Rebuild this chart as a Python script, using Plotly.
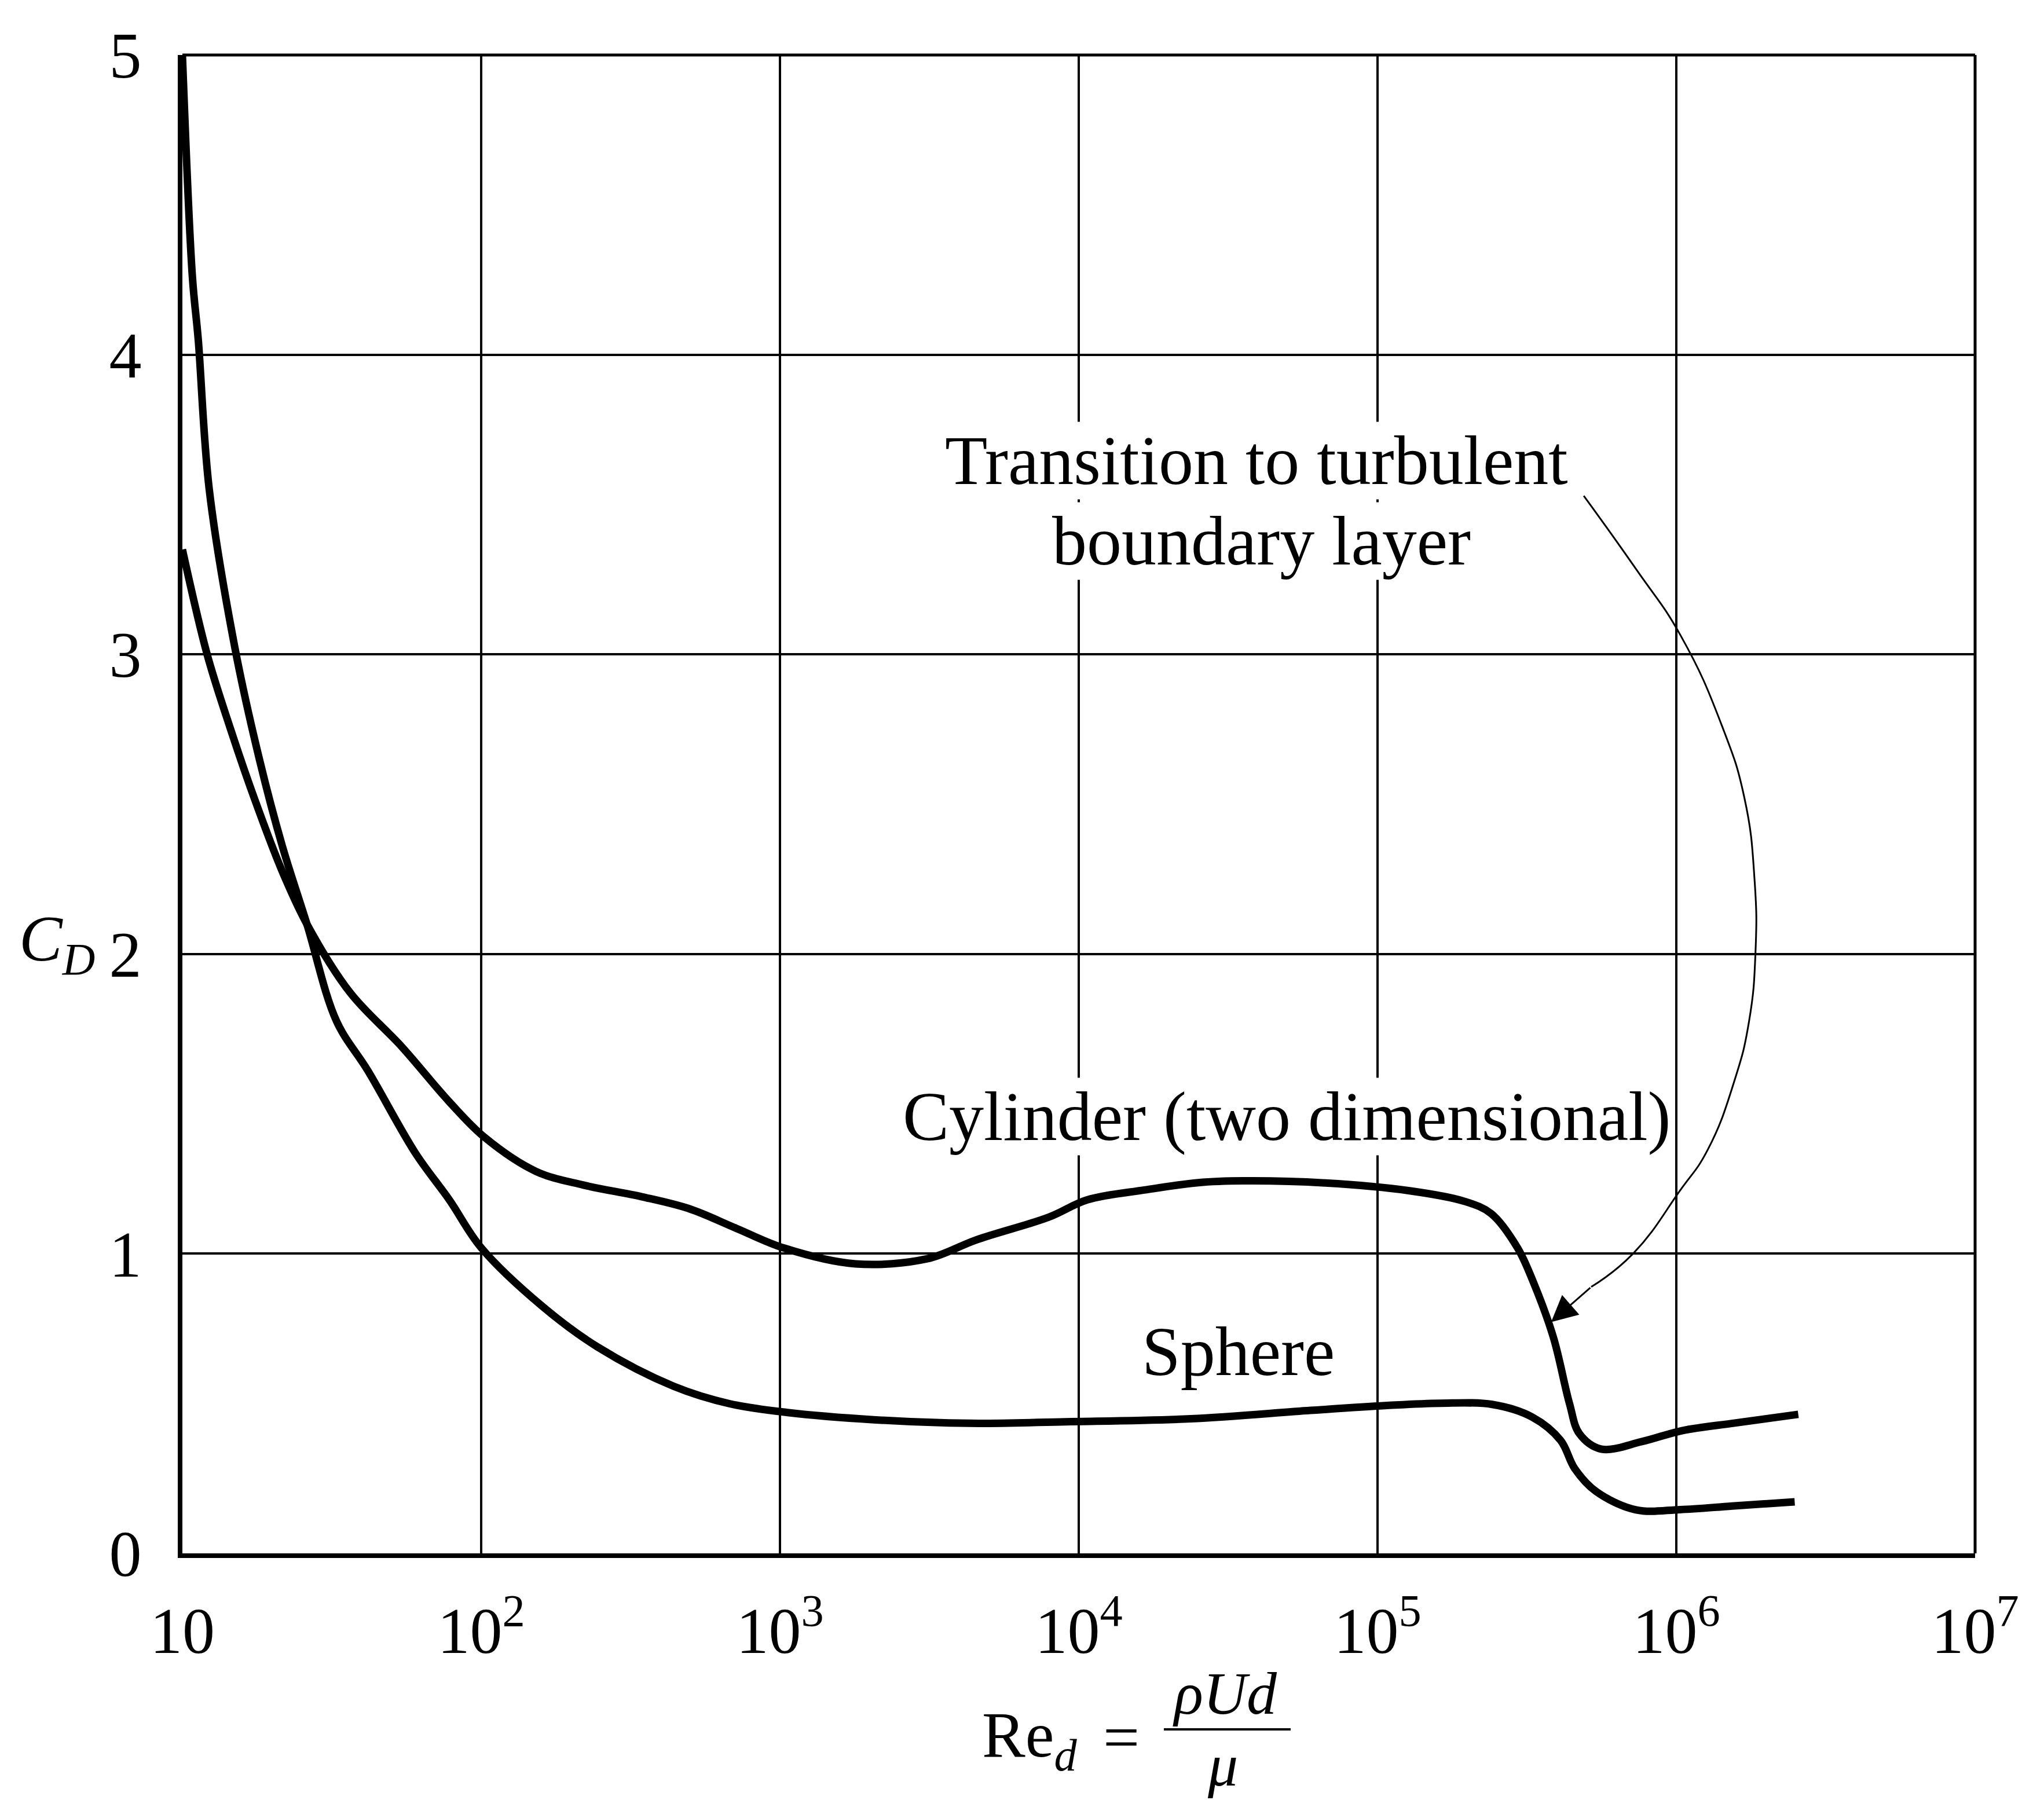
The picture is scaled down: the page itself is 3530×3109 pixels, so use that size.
import plotly.graph_objects as go
import math

# ---------------- data ----------------
cylinder_re = [10, 12.1, 14.5, 17.4, 21.5, 26.1, 36.5, 54.3, 78.5, 103, 153, 220, 345, 497, 713,
               1030, 1790, 3110, 4540, 7940, 10700, 16700, 25100, 35600, 67000, 128000, 195000,
               240000, 294000, 332000, 388000, 439000, 474000, 560000, 767000, 1050000, 1570000, 2560000]
cylinder_cd = [3.35, 3.0, 2.75, 2.52, 2.28, 2.10, 1.87, 1.69, 1.505, 1.387, 1.274, 1.229, 1.19, 1.15, 1.085,
               1.019, 0.966, 0.983, 1.046, 1.122, 1.18, 1.213, 1.237, 1.243, 1.236, 1.21, 1.175,
               1.134, 1.02, 0.906, 0.72, 0.50, 0.399, 0.348, 0.373, 0.41, 0.435, 0.464]

sphere_re = [10, 10.8, 11.3, 12.3, 15.0, 18.1, 21.6, 26.1, 32.8, 41.8, 60.3, 78.2, 100, 160, 245, 440,
             681, 1060, 2060, 4320, 9040, 23700, 59700, 106000, 162000, 242000, 329000, 410000,
             457000, 538000, 733000, 1030000, 1540000, 2490000]
sphere_cd = [5.0, 4.26, 4.05, 3.55, 3.02, 2.65, 2.36, 2.10, 1.776, 1.61, 1.335, 1.18, 1.02, 0.825, 0.689, 0.558,
             0.499, 0.47, 0.446, 0.434, 0.439, 0.449, 0.477, 0.493, 0.501, 0.497, 0.455, 0.377,
             0.283, 0.207, 0.145, 0.146, 0.158, 0.172]

# leader curve of the "Transition" note (Re, CD)
arrow_re = [490000, 735000, 1035000, 1422000, 1690000, 1828000, 1841000, 1750000, 1567000,
            1271000, 1028000, 718000, 519000]
arrow_cd = [3.529, 3.283, 3.062, 2.761, 2.521, 2.246, 2.007, 1.773, 1.579, 1.345, 1.21, 1.001, 0.889]
arrow_tip = (381000, 0.772)

x_tickvals = [10, 100, 1000, 10000, 100000, 1000000, 10000000]
x_ticktext = ["10", "10<sup>2</sup>", "10<sup>3</sup>", "10<sup>4</sup>",
              "10<sup>5</sup>", "10<sup>6</sup>", "10<sup>7</sup>"]
y_tickvals = [0, 1, 2, 3, 4, 5]
y_ticktext = ["0", "1", "2", "3", "4", "5"]

# ---------------- figure ----------------
FONT = "Liberation Serif"
FS = 112
NOTE_FS = 120
FRAC_FS = 104

fig = go.Figure()

fig.add_trace(go.Scatter(x=cylinder_re, y=cylinder_cd, mode="lines",
                         line=dict(color="black", width=13, shape="spline", smoothing=1.0),
                         hoverinfo="skip", showlegend=False))
fig.add_trace(go.Scatter(x=sphere_re, y=sphere_cd, mode="lines",
                         line=dict(color="black", width=13, shape="spline", smoothing=1.0),
                         hoverinfo="skip", showlegend=False))
fig.add_trace(go.Scatter(x=arrow_re, y=arrow_cd, mode="lines",
                         line=dict(color="black", width=3, shape="spline", smoothing=1.3),
                         hoverinfo="skip", showlegend=False))

annotations = []
# arrow head
annotations.append(dict(x=math.log10(arrow_tip[0]), y=arrow_tip[1], xref="x", yref="y",
                        ax=math.log10(arrow_re[-1]), ay=arrow_cd[-1], axref="x", ayref="y",
                        showarrow=True, arrowhead=2, arrowsize=3, arrowwidth=3,
                        arrowcolor="black", text=""))


def note(text, x, y, size=NOTE_FS, bg=True, pad=0):
    annotations.append(dict(text=text, x=x, y=y, xref="paper", yref="paper",
                            showarrow=False, xanchor="center", yanchor="middle",
                            font=dict(family=FONT, size=size, color="black"),
                            bgcolor="white" if bg else None, borderpad=pad))


note("Transition to turbulent", 0.599, 0.7295)
note("boundary layer", 0.602, 0.6755)
note("Cylinder (two dimensional)", 0.616, 0.2917)
note("Sphere", 0.589, 0.1346)

# axis titles
note("<i>C</i><sub><i>D</i></sub>", -0.070, 0.407, size=FS, bg=False)
note("Re<sub><i>d</i></sub>", 0.4726, -0.1244, size=FS, bg=False)
note("=", 0.5236, -0.1225, size=FS, bg=False)
note("<i>ρUd</i>", 0.5817, -0.0935, size=FRAC_FS, bg=False)
note("<i>μ</i>", 0.5804, -0.1414, size=FRAC_FS, bg=False)

shapes = [
    dict(type="line", xref="paper", yref="paper", x0=0.5475, x1=0.6182, y0=-0.1175, y1=-0.1175,
         line=dict(color="black", width=4)),
    dict(type="line", xref="paper", yref="paper", x0=0, x1=1, y0=1, y1=1,
         line=dict(color="black", width=5), layer="above"),
    dict(type="line", xref="paper", yref="paper", x0=1, x1=1, y0=0, y1=1,
         line=dict(color="black", width=5), layer="above"),
]

fig.update_layout(
    width=3530, height=3109, autosize=False,
    margin=dict(l=315, r=119, t=95, b=426),
    paper_bgcolor="white", plot_bgcolor="white",
    font=dict(family=FONT, size=FS, color="black"),
    showlegend=False,
    annotations=annotations,
    shapes=shapes,
    xaxis=dict(type="log", range=[1, 7], tickvals=x_tickvals, ticktext=x_ticktext,
               showgrid=True, gridcolor="black", gridwidth=3.5,
               showline=True, linecolor="black", linewidth=8,
               ticks="", zeroline=False, ticklabelstandoff=30,
               tickfont=dict(family=FONT, size=FS, color="black")),
    yaxis=dict(range=[0, 5], tickvals=y_tickvals, ticktext=y_ticktext,
               showgrid=True, gridcolor="black", gridwidth=3.5,
               showline=True, linecolor="black", linewidth=8,
               ticks="", zeroline=False, ticklabelstandoff=40,
               tickfont=dict(family=FONT, size=FS, color="black")),
)

fig.write_html("out.html")
